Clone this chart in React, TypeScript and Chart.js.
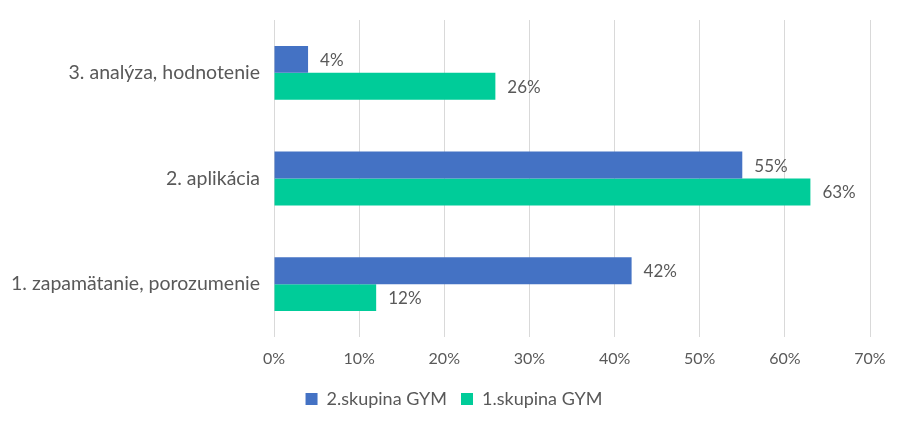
import React, { useEffect, useRef } from "react";
import { Chart, registerables } from "chart.js";

Chart.register(...registerables);

const categories = ["3. analýza, hodnotenie", "2. aplikácia", "1. zapamätanie, porozumenie"];
const group2Values = [4, 55, 42];
const group1Values = [26, 63, 12];
const seriesNames = ["2.skupina GYM", "1.skupina GYM"];
const xTicks = [0, 10, 20, 30, 40, 50, 60, 70];

const FONT = "'Source Sans Pro', Lato, 'Noto Sans', sans-serif";
const TEXT = "#595959";

const labelPlugin = {
  id: "barLabels",
  afterDatasetsDraw(chart: any) {
    const ctx = chart.ctx;
    ctx.save();
    ctx.font = `17px ${FONT}`;
    ctx.fillStyle = TEXT;
    ctx.textAlign = "left";
    ctx.textBaseline = "middle";
    chart.data.datasets.forEach((ds: any, i: number) => {
      const meta = chart.getDatasetMeta(i);
      meta.data.forEach((bar: any, j: number) => {
        ctx.fillText(`${ds.data[j]}%`, bar.x + 12, bar.y + 1);
      });
    });
    ctx.restore();
  },
};

export default function App() {
  const ref = useRef<HTMLCanvasElement>(null);
  useEffect(() => {
    if (!ref.current) return;
    const chart = new Chart(ref.current, {
      type: "bar",
      data: {
        labels: categories,
        datasets: [
          { label: seriesNames[0], data: group2Values, backgroundColor: "#4472C4", barPercentage: 1, categoryPercentage: 0.51 },
          { label: seriesNames[1], data: group1Values, backgroundColor: "#00CC99", barPercentage: 1, categoryPercentage: 0.51 },
        ],
      },
      options: {
        indexAxis: "y",
        animation: false,
        responsive: false,
        layout: { padding: { left: 0, right: 0, top: 20, bottom: 13 } },
        plugins: {
          legend: {
            position: "bottom",
            labels: {
              font: { family: FONT, size: 18 },
              color: TEXT,
              usePointStyle: true,
              pointStyle: "rect",
              boxWidth: 12,
              boxHeight: 12,
              padding: 14,
            },
          },
          tooltip: { enabled: false },
        },
        scales: {
          x: {
            min: 0,
            max: 70,
            afterBuildTicks: (s: any) => { s.ticks = xTicks.map((v) => ({ value: v })); },
            ticks: {
              callback: (v: any) => `${v}%`,
              font: { family: FONT, size: 16 },
              color: TEXT,
              padding: 12,
            },
            grid: { color: "#d9d9d9", drawTicks: false },
            border: { display: false },
            afterFit: (s: any) => { s.height = 39; s.paddingLeft = 0; s.paddingRight = 0; },
          },
          y: {
            ticks: { font: { family: FONT, size: 19.5 }, color: TEXT, padding: 14 },
            grid: { display: false, drawTicks: false },
            border: { display: false },
            afterFit: (s: any) => { s.width = 274; s.paddingTop = 0; s.paddingBottom = 0; },
          },
          yRight: {
            type: "category",
            labels: categories,
            position: "right",
            ticks: { display: false },
            grid: { display: false, drawTicks: false },
            border: { display: false },
            afterFit: (s: any) => { s.width = 38; s.paddingTop = 0; s.paddingBottom = 0; },
          },
        },
      },
      plugins: [labelPlugin],
    });
    return () => chart.destroy();
  }, []);
  return (
    <div style={{ position: "fixed", left: 0, top: 0, width: 908, height: 431, background: "#fff" }}>
      <canvas ref={ref} width={908} height={431} />
    </div>
  );
}
